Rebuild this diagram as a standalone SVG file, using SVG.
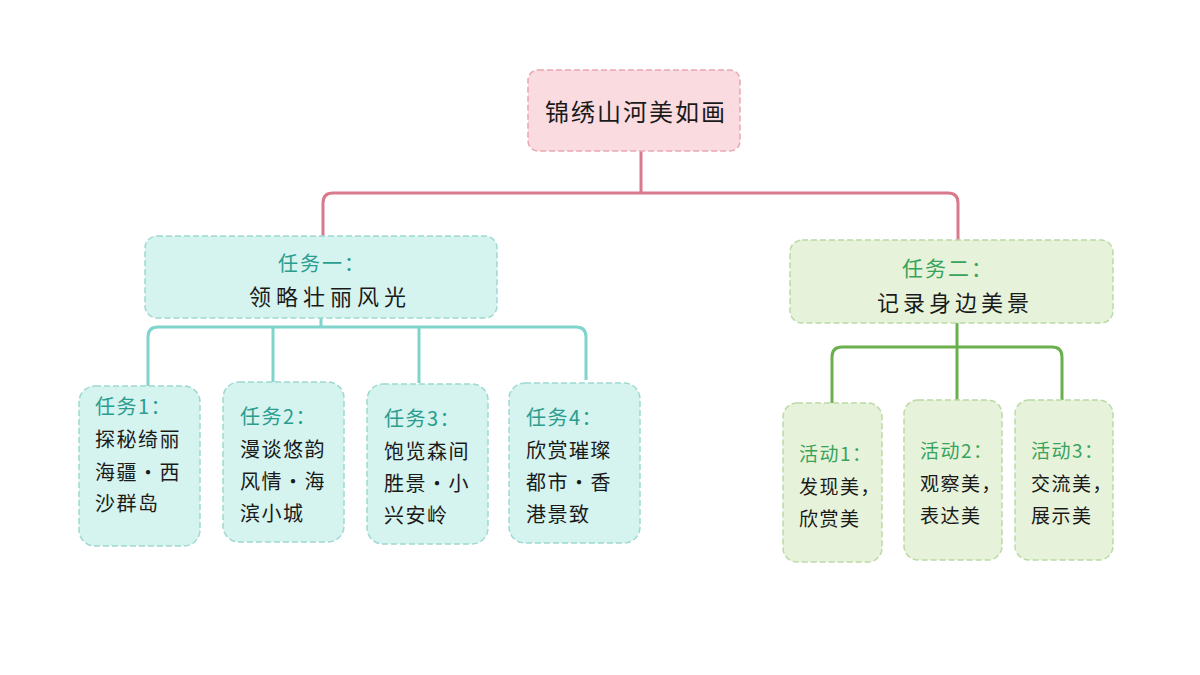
<svg xmlns="http://www.w3.org/2000/svg" width="1200" height="675" viewBox="0 0 1200 675">
<style>
text{font-family:"Noto Sans CJK SC","Liberation Sans",sans-serif;fill:#1a1a1a}
.root{fill:#fadbe0;stroke:#eaa6b1;stroke-width:1.5;stroke-dasharray:6 3}
.teal{fill:#d5f3ef;stroke:#9fd9d1;stroke-width:1.5;stroke-dasharray:6 3}
.grn{fill:#e6f2da;stroke:#bcd9a6;stroke-width:1.5;stroke-dasharray:6 3}
.lt{fill:#2a9d8f}.lg{fill:#38a35a}
.c{fill:none;stroke-width:3;stroke-linejoin:round}
.s text{letter-spacing:1.5px}
</style>
<g id="connectors">
<path class="c" stroke="#d9798c" d="M641 151V193H333Q323 193 323 203V236M641 193H948Q958 193 958 203V240"/>
<path class="c" stroke="#7fd4cc" d="M321 318V327M158 327H576Q586 327 586 337V380M158 327Q148 327 148 337V387M273 327V382M419 327V383"/>
<path class="c" stroke="#6ab04c" d="M957 323V400M842 347H1052Q1062 347 1062 357V400M842 347Q832 347 832 357V403"/>
</g>
<g id="root"><rect class="root" x="528" y="70" width="212" height="81" rx="10"/><text x="636" y="121" font-size="24" text-anchor="middle" letter-spacing="2">锦绣山河美如画</text></g>
<g id="task1"><rect class="teal" x="145" y="236" width="352" height="82" rx="12"/><text class="lt" x="322" y="271" font-size="20" text-anchor="middle" letter-spacing="2">任务一：</text><text x="330" y="305" font-size="22" text-anchor="middle" letter-spacing="5">领略壮丽风光</text></g>
<g id="task2"><rect class="grn" x="790" y="240" width="323" height="83" rx="12"/><text class="lg" x="948" y="276" font-size="21" text-anchor="middle" letter-spacing="2">任务二：</text><text x="955" y="311" font-size="22" text-anchor="middle" letter-spacing="4">记录身边美景</text></g>
<g font-size="20" class="s">
<g id="t1"><rect class="teal" x="79" y="386" width="121" height="160" rx="16"/><text class="lt" x="95" y="414">任务1：</text><text x="95" y="447">探秘绮丽</text><text x="95" y="480">海疆•西</text><text x="95" y="511">沙群岛</text></g>
<g id="t2"><rect class="teal" x="223" y="382" width="121" height="160" rx="16"/><text class="lt" x="240" y="424">任务2：</text><text x="240" y="457">漫谈悠韵</text><text x="240" y="489">风情•海</text><text x="240" y="521">滨小城</text></g>
<g id="t3"><rect class="teal" x="367" y="384" width="121" height="160" rx="16"/><text class="lt" x="384" y="426">任务3：</text><text x="384" y="459">饱览森间</text><text x="384" y="491">胜景•小</text><text x="384" y="523">兴安岭</text></g>
<g id="t4"><rect class="teal" x="509" y="383" width="131" height="160" rx="16"/><text class="lt" x="526" y="425">任务4：</text><text x="526" y="458">欣赏璀璨</text><text x="526" y="490">都市•香</text><text x="526" y="522">港景致</text></g>
<g id="a1"><rect class="grn" x="783" y="403" width="99" height="159" rx="14"/><text class="lg" x="799" y="461" font-size="19">活动1：</text><text x="799" y="494" font-size="19">发现美，</text><text x="799" y="526" font-size="19">欣赏美</text></g>
<g id="a2"><rect class="grn" x="904" y="400" width="98" height="160" rx="14"/><text class="lg" x="920" y="458" font-size="19">活动2：</text><text x="920" y="491" font-size="19">观察美，</text><text x="920" y="523" font-size="19">表达美</text></g>
<g id="a3"><rect class="grn" x="1015" y="400" width="98" height="160" rx="14"/><text class="lg" x="1031" y="458" font-size="19">活动3：</text><text x="1031" y="491" font-size="19">交流美，</text><text x="1031" y="523" font-size="19">展示美</text></g>
</g>
</svg>
